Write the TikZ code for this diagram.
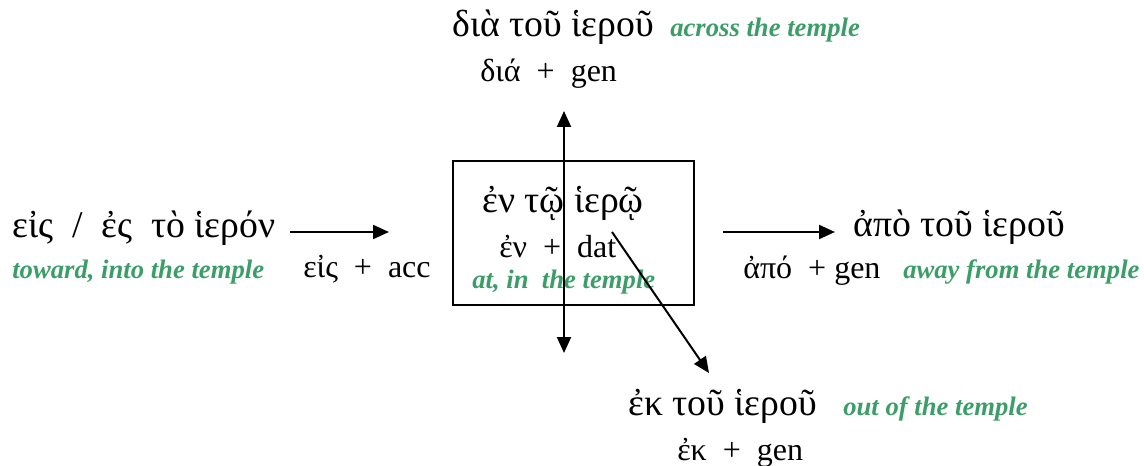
\documentclass[tikz,border=0pt]{standalone}
\usepackage{fontspec}
\setmainfont{Liberation Serif}
\usetikzlibrary{arrows.meta}
\definecolor{gr}{RGB}{59,158,104}
\begin{document}
\begin{tikzpicture}[x=0.75pt,y=-0.75pt,
  big/.style={inner sep=0pt,anchor=base west,font=\fontsize{28.3}{30}\selectfont},
  small/.style={inner sep=0pt,anchor=base west,font=\fontsize{24}{26}\selectfont},
  eng/.style={inner sep=0pt,anchor=base west,text=gr,font=\fontsize{20}{22}\selectfont\bfseries\itshape},
  tip/.style={Triangle[length=12pt,width=10.5pt]},
  arr/.style={line width=1.5pt,-{Triangle[length=12pt,width=10.5pt]}}]
\useasboundingbox (0,0) rectangle (1144,466);
% box
\node[draw,line width=1.5pt,minimum width=241*0.75pt,minimum height=144*0.75pt,inner sep=0pt,anchor=north west] (box) at (452,160) {};
% left
\node[big] (eis) at (12,238) {εἰς \ / \ ἐς \ τὸ ἱερόν};
\node[eng] (toward) at (12,278) {toward, into the temple};
\node[small] (eisacc) at (303,277) {εἰς \ + \ acc};
\coordinate (la1) at (290,232);
\coordinate (la2) at (389,232);
\draw[arr] (la1) -- (la2);
% center
\node[big] (en) at (482,213) {ἐν τῷ ἱερῷ};
\node[small] (endat) at (499,258) {ἐν \ + \ dat};
\node[eng] (atin) at (472,288) {at, in \ the temple};
% top
\node[big] (dia) at (452,37) {διὰ τοῦ ἱεροῦ};
\node[eng] (across) at (670,37) {across the temple};
\node[small] (diagen) at (480,82) {διά \ + \ gen};
% right
\node[big] (apo) at (853,237) {ἀπὸ τοῦ ἱεροῦ};
\node[small] (apogen) at (743,278) {ἀπό \ + gen};
\node[eng] (away) at (903,279) {away from the temple};
\coordinate (ra1) at (723,232);
\coordinate (ra2) at (835,232);
\draw[arr] (ra1) -- (ra2);
% bottom
\node[big] (ek) at (628,415) {ἐκ τοῦ ἱεροῦ};
\node[eng] (out) at (843,415) {out of the temple};
\node[small] (ekgen) at (677,460) {ἐκ \ + \ gen};
% vertical double arrow
\coordinate (vt) at (564,111);
\coordinate (vb) at (564,353);
\draw[line width=1.5pt,{Triangle[length=12pt,width=10.5pt]}-{Triangle[length=12pt,width=10.5pt]}] (vt) -- (vb);
% diagonal
\coordinate (d1) at (612,232);
\coordinate (d2) at (709,373);
\draw[arr] (d1) -- (d2);
\end{tikzpicture}
\end{document}
